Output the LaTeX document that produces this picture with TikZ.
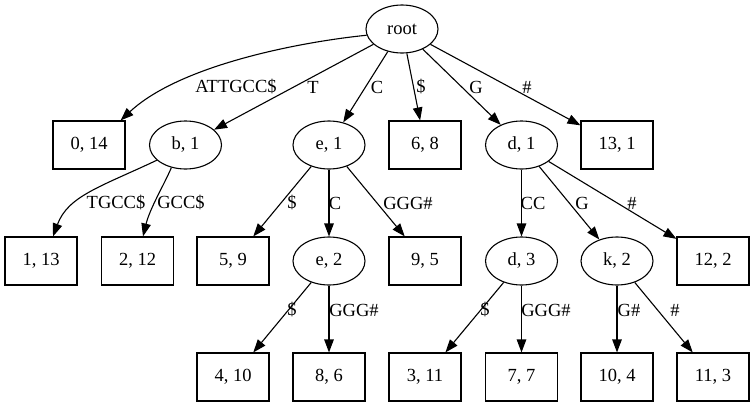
\documentclass[tikz,border=0pt]{standalone}
\usepackage{fontspec}
\setmainfont{Liberation Serif}
\usetikzlibrary{shapes.geometric,arrows.meta}
\begin{document}
\begin{tikzpicture}[x=1pt,y=-1pt,
  font=\fontsize{18.5}{22}\selectfont,
  leaf/.style={draw, rectangle, minimum width=72pt, minimum height=48pt, inner sep=0pt, line width=1.1pt},
  inode/.style={draw, ellipse, minimum width=72pt, minimum height=48pt, inner sep=0pt, line width=1.1pt},
  conn/.style={line width=1.1pt, -{Triangle[length=13pt,width=9.5pt]}},
  lbl/.style={inner sep=0pt}]
\useasboundingbox (0,0) rectangle (755,407);
% nodes
\node[inode] (root) at (402,29) {root};
\node[leaf]  (n014) at (89,145) {0, 14};
\node[inode] (b1)   at (185.5,145) {b, 1};
\node[inode] (e1)   at (329,145) {e, 1};
\node[leaf]  (n68)  at (425,145) {6, 8};
\node[inode] (d1)   at (521.5,145) {d, 1};
\node[leaf]  (n131) at (617,145) {13, 1};
\node[leaf]  (n113) at (41,261) {1, 13};
\node[leaf]  (n212) at (137.5,261) {2, 12};
\node[leaf]  (n59)  at (233,261) {5, 9};
\node[inode] (e2)   at (329,261) {e, 2};
\node[leaf]  (n95)  at (425,261) {9, 5};
\node[inode] (d3)   at (521.5,261) {d, 3};
\node[inode] (k2)   at (617,261) {k, 2};
\node[leaf]  (n122) at (713,261) {12, 2};
\node[leaf]  (n410) at (233,377) {4, 10};
\node[leaf]  (n86)  at (329,377) {8, 6};
\node[leaf]  (n311) at (425,377) {3, 11};
\node[leaf]  (n77)  at (521.5,377) {7, 7};
\node[leaf]  (n104) at (617,377) {10, 4};
\node[leaf]  (n113b) at (713,377) {11, 3};
% edges
\draw[conn] (root.190) .. controls (300,42) and (180,65) .. ([xshift=-5pt]n014.north east);
\draw[conn] (root) -- (b1);
\draw[conn] (root) -- (e1);
\draw[conn] (root) -- (n68);
\draw[conn] (root) -- (d1);
\draw[conn] (root) -- (n131);
\draw[conn] (b1.208) .. controls (100,187) and (68,196) .. ([xshift=12pt]n113.north);
\draw[conn] (b1.238) .. controls (164,185) and (150,208) .. ([xshift=5.5pt]n212.north);
\draw[conn] (e1) -- (n59);
\draw[conn] (e1) -- (e2);
\draw[conn] (e1) -- (n95);
\draw[conn] (d1) -- (d3);
\draw[conn] (d1) -- (k2);
\draw[conn] (d1) -- (n122);
\draw[conn] (e2) -- (n410);
\draw[conn] (e2) -- (n86);
\draw[conn] (d3) -- (n311);
\draw[conn] (d3) -- (n77);
\draw[conn] (k2) -- (n104);
\draw[conn] (k2) -- (n113b);
% edge labels
\node[lbl] (l1) at (236,87) {ATTGCC\$};
\node[lbl] (l2) at (313,87) {T};
\node[lbl] (l3) at (377,87) {C};
\node[lbl] (l4) at (421,87) {\$};
\node[lbl] (l5) at (476,87) {G};
\node[lbl] (l6) at (527,87) {\#};
\node[lbl] (l7) at (116,203) {TGCC\$};
\node[lbl] (l8) at (181,203) {GCC\$};
\node[lbl] (l9) at (292,203) {\$};
\node[lbl] (l10) at (335,203) {C};
\node[lbl] (l11) at (408,203) {GGG\#};
\node[lbl] (l12) at (533,203) {CC};
\node[lbl] (l13) at (582,203) {G};
\node[lbl] (l14) at (632,203) {\#};
\node[lbl] (l15) at (292,310) {\$};
\node[lbl] (l16) at (354,310) {GGG\#};
\node[lbl] (l17) at (485,310) {\$};
\node[lbl] (l18) at (546,310) {GGG\#};
\node[lbl] (l19) at (629,310) {G\#};
\node[lbl] (l20) at (675,310) {\#};
\end{tikzpicture}
\end{document}
